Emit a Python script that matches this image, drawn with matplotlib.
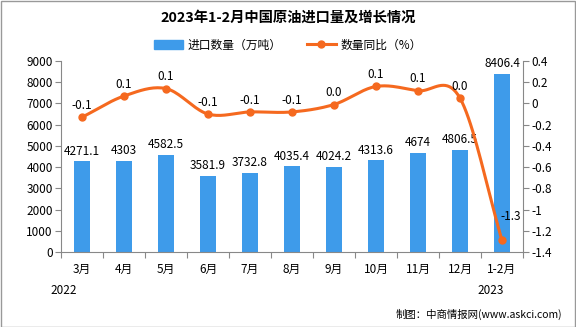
import matplotlib
matplotlib.use("Agg")
import matplotlib.pyplot as plt
import numpy as np
from matplotlib.lines import Line2D
from matplotlib.patches import Patch, Rectangle

plt.rcParams['font.family'] = ['Noto Sans CJK SC', 'DejaVu Sans']

categories = ["3月", "4月", "5月", "6月", "7月", "8月", "9月", "10月", "11月", "12月", "1-2月"]
volume = [4271.1, 4303, 4582.5, 3581.9, 3732.8, 4035.4, 4024.2, 4313.6, 4674, 4806.5, 8406.4]
volume_labels = ["4271.1", "4303", "4582.5", "3581.9", "3732.8", "4035.4", "4024.2", "4313.6", "4674", "4806.5", "8406.4"]
yoy = [-0.13, 0.07, 0.14, -0.10, -0.08, -0.08, -0.01, 0.16, 0.12, 0.05, -1.29]
yoy_labels = ["-0.1", "0.1", "0.1", "-0.1", "-0.1", "-0.1", "0.0", "0.1", "0.1", "0.0", "-1.3"]
left_ticks = [0, 1000, 2000, 3000, 4000, 5000, 6000, 7000, 8000, 9000]
right_ticks = [0.4, 0.2, 0, -0.2, -0.4, -0.6, -0.8, -1, -1.2, -1.4]
right_tick_labels = ["0.4", "0.2", "0", "-0.2", "-0.4", "-0.6", "-0.8", "-1", "-1.2", "-1.4"]

W, H = 576, 327
FS = 8.5
fig = plt.figure(figsize=(W / 100, H / 100), dpi=100)
ax = fig.add_axes([61 / W, 1 - 252 / H, (523 - 61) / W, (252 - 61) / H])
ax2 = ax.twinx()

bar_color = "#3e9bea"
line_color = "#f5691f"
x = np.arange(len(categories))

ax.bar(x, volume, width=0.36, color=bar_color, zorder=2)
for xi, v, lab in zip(x, volume, volume_labels):
    ax.text(xi, v + 180, lab, ha="center", va="bottom", fontsize=FS, color="black")

ax.set_xlim(-0.5, len(categories) - 0.5)
ax.set_ylim(0, 9000)
ax.set_yticks(left_ticks)
ax.set_yticklabels([str(t) for t in left_ticks], fontsize=FS)
ax.set_xticks(np.arange(-0.5, len(categories), 1), minor=False)
ax.set_xticklabels([])
ax.set_xticks(x, minor=True)
ax.set_xticklabels(categories, minor=True, fontsize=FS)
ax.tick_params(axis="x", which="minor", length=0, pad=8)
ax.tick_params(axis="x", which="major", length=4, color="#888888")
ax.tick_params(axis="y", length=4, color="#888888", pad=2)

# smooth line (Catmull-Rom through the data points)
def catmull(xs, ys, n=20):
    px = np.concatenate([[2 * xs[0] - xs[1]], xs, [2 * xs[-1] - xs[-2]]])
    py = np.concatenate([[2 * ys[0] - ys[1]], ys, [2 * ys[-1] - ys[-2]]])
    ox, oy = [], []
    for i in range(1, len(px) - 2):
        t = np.linspace(0, 1, n, endpoint=False)
        for arr, out in ((px, ox), (py, oy)):
            p0, p1, p2, p3 = arr[i - 1], arr[i], arr[i + 1], arr[i + 2]
            out.extend(0.5 * ((2 * p1) + (-p0 + p2) * t + (2 * p0 - 5 * p1 + 4 * p2 - p3) * t ** 2 + (-p0 + 3 * p1 - 3 * p2 + p3) * t ** 3))
    ox.append(xs[-1]); oy.append(ys[-1])
    return np.array(ox), np.array(oy)

sx, sy = catmull(x.astype(float), np.array(yoy))
ax2.plot(sx, sy, color=line_color, lw=2.2, zorder=3)
ax2.plot(x, yoy, "o", color=line_color, ms=5, zorder=4)
for xi, v, lab in zip(x, yoy, yoy_labels):
    if xi == len(x) - 1:
        ax2.text(xi + 0.2, v + 0.22, lab, ha="center", va="center", fontsize=FS)
    else:
        ax2.text(xi, v + 0.05, lab, ha="center", va="bottom", fontsize=FS)
ax2.set_ylim(-1.4, 0.4)
ax2.set_yticks(right_ticks)
ax2.set_yticklabels(right_tick_labels, fontsize=FS)
ax2.tick_params(axis="y", length=4, color="#888888", pad=2)

for a in (ax, ax2):
    a.spines["top"].set_visible(False)
    for s in ("left", "right", "bottom"):
        a.spines[s].set_color("#888888")
ax.spines["right"].set_visible(False)
ax2.spines["left"].set_visible(False)
ax2.spines["bottom"].set_visible(False)

fig.text(0.5, 1 - 18 / H, "2023年1-2月中国原油进口量及增长情况", ha="center", va="center", fontsize=10.3, fontweight="bold")
handles = [Patch(color=bar_color), Line2D([0], [0], color=line_color, lw=2.2, marker="o", ms=5)]
fig.legend(handles, ["进口数量（万吨）", "数量同比（%）"], loc="center", bbox_to_anchor=(0.5, 1 - 45 / H),
           ncol=2, frameon=False, fontsize=FS, handlelength=2.4, columnspacing=2.2, handletextpad=0.4)

fig.text(64 / W, 1 - 291 / H, "2022", ha="center", va="center", fontsize=FS)
fig.text(491 / W, 1 - 291 / H, "2023", ha="center", va="center", fontsize=FS)
fig.text(562 / W, 1 - 314 / H, "制图：中商情报网(www.askci.com)", ha="right", va="center", fontsize=7.5)

fig.patches.append(Rectangle((0.5 / W, 0.5 / H), 1 - 1.5 / W, 1 - 1.5 / H, transform=fig.transFigure,
                             fill=False, edgecolor="#999999", lw=1))
fig.savefig("out.png", dpi=100)
